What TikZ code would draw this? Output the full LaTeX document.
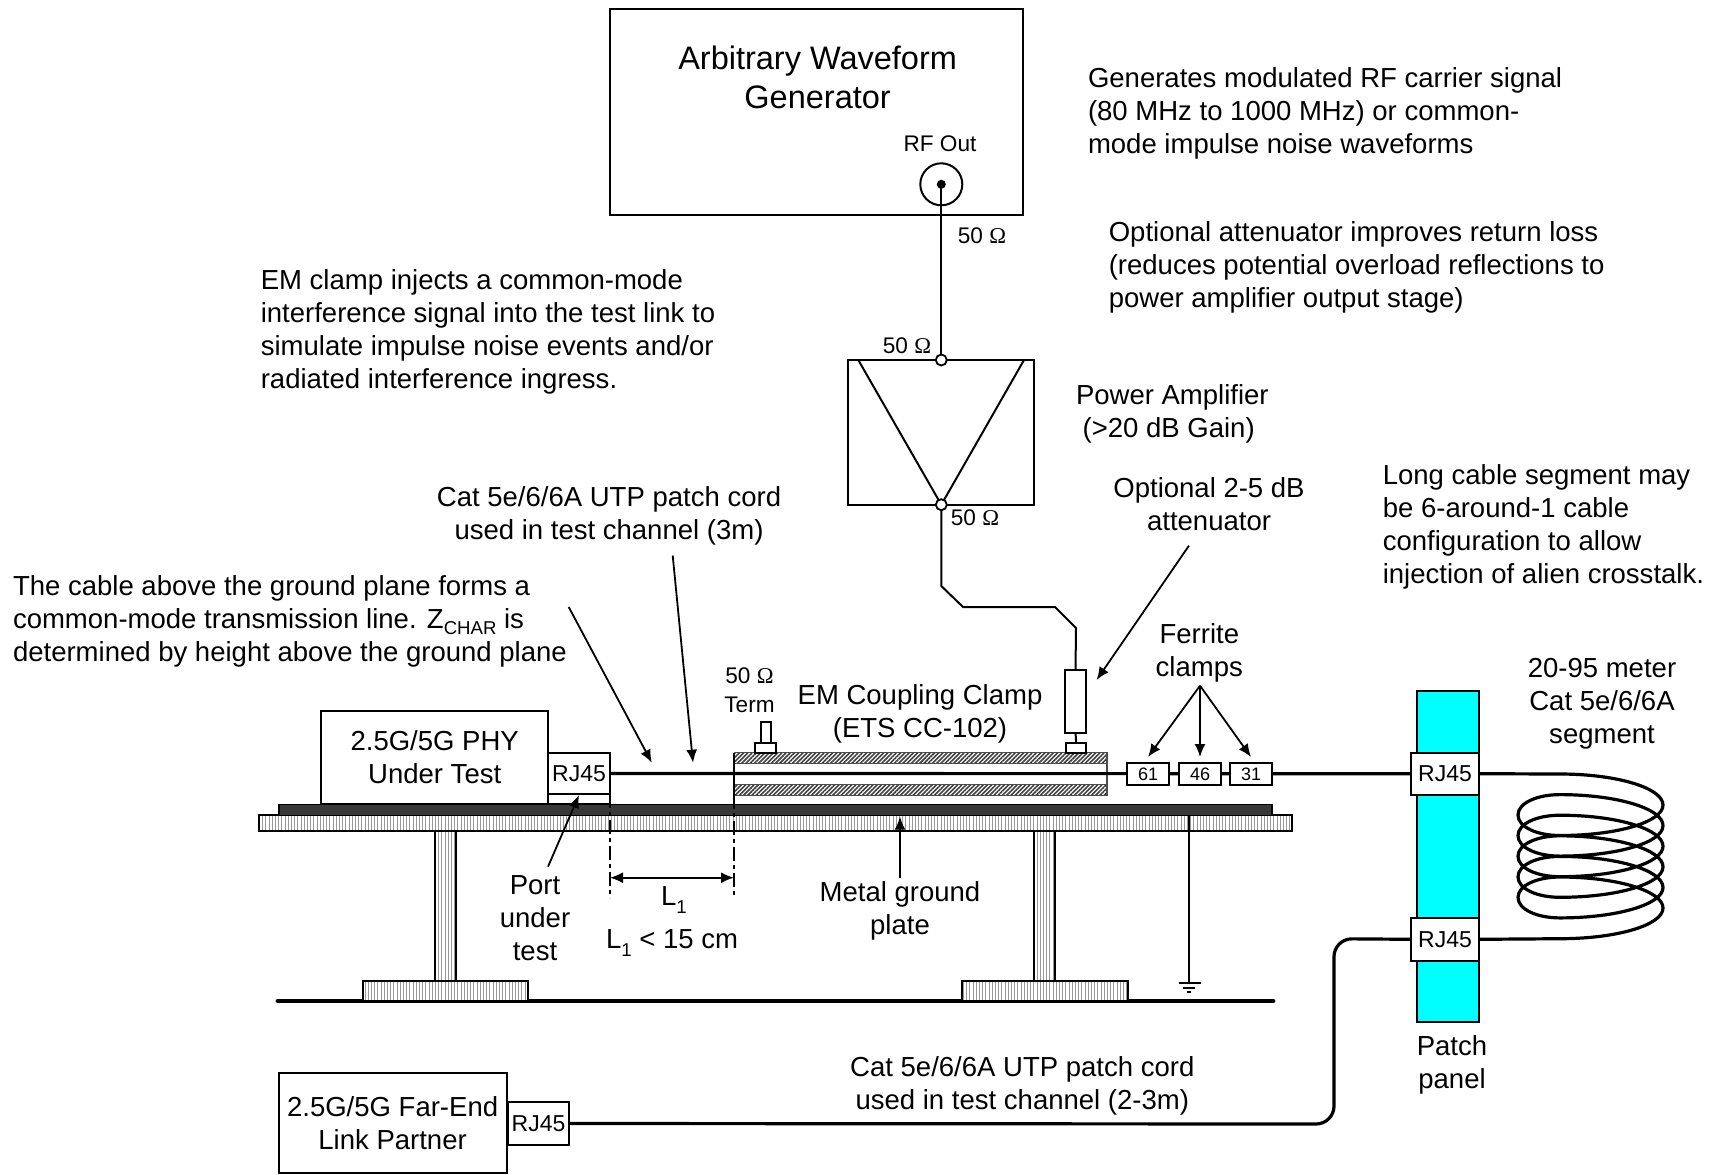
\documentclass[tikz,border=0pt]{standalone}
\usepackage{fontspec}
\setmainfont{Liberation Sans}
\newfontfamily\omfont{Liberation Serif}
\usetikzlibrary{arrows.meta,patterns.meta}
\definecolor{panelcyan}{RGB}{0,255,255}
\newcommand{\ohm}{{\omfont Ω}}
\newcommand{\subtxt}[1]{\raisebox{-2.6pt}{\fontsize{9.3}{10}\selectfont #1}}
\newcommand{\subl}[1]{\raisebox{-4pt}{\fontsize{9.3}{10}\selectfont #1}}
\tikzset{
  lbl/.style={inner sep=0pt,outer sep=0pt,font=\fontsize{13.76}{16.5}\selectfont},
  lblc/.style={lbl,align=center,anchor=north},
  lbll/.style={lbl,align=left,anchor=north west},
  sm/.style={inner sep=0pt,outer sep=0pt,font=\fontsize{11.3}{13}\selectfont,align=center},
  wh/.style 2 args={minimum width=#1*0.5pt,minimum height=#2*0.5pt},
  box/.style={draw=black,line width=1pt,fill=white,inner sep=0pt,outer sep=0pt},
  thin wire/.style={line width=1pt,draw=black},
  cable/.style={line width=1.6pt,draw=black},
  callout/.style={line width=.9pt,draw=black,-{Latex[length=6.5pt,width=5.5pt]}},
  port/.style={circle,draw=black,line width=.9pt,fill=white,minimum size=5.5pt,inner sep=0pt,outer sep=0pt},
  rjbox/.style={box,font=\fontsize{11.5}{13}\selectfont},
  ferrite/.style={box,wh={42}{22},font=\fontsize{9}{10}\selectfont},
  metalfill/.style={draw=black,line width=1pt,pattern={Lines[angle=90,distance=1.6pt,line width=.3pt]},pattern color=black!40},
  hatchfill/.style={draw=black!70,line width=.5pt,pattern={Lines[angle=45,distance=1.5pt,line width=.8pt]},pattern color=black!75},
  limit/.style={line width=.8pt,draw=black,dash pattern=on 7pt off 2pt on 2pt off 2pt}
}
\begin{document}
\begin{tikzpicture}[x=.5pt,y=-.5pt]
\useasboundingbox (0,0) rectangle (1718,1174);

% table and ground
\draw[line width=2.4pt,line cap=round] (278,1001) -- (1273,1001);
\fill[white] (435,831) rectangle (456,981);
\fill[white] (1034,831) rectangle (1055,981);
\fill[white] (362.5,981) rectangle (527.5,1000.5);
\fill[white] (962,981) rectangle (1127.5,1000.5);
\draw[metalfill] (435,831) rectangle (456,981);
\draw[metalfill] (1034,831) rectangle (1055,981);
\draw[metalfill] (362.5,981) rectangle (527.5,1000.5);
\draw[metalfill] (962,981) rectangle (1127.5,1000.5);
\draw[metalfill] (258.6,815) rectangle (1292,831);
\fill[black!78] (279,804.5) rectangle (1272,815.5);
\draw[line width=.8pt] (279,804.5) rectangle (1272,815.5);

% ground connection
\coordinate (gwtop) at (1189,815);
\coordinate (gwbot) at (1189,983);
\draw[thin wire] (gwtop) -- (gwbot);
\draw[thin wire] (1178.5,983) -- (1200.5,983);
\draw[thin wire] (1183,987.5) -- (1195,987.5);
\draw[thin wire] (1187,992) -- (1191,992);

% arbitrary waveform generator
\node[box,wh={413.4}{206.2}] (arb) at (816.7,111.9) {};
\node[lbl,font=\fontsize{16.25}{19.5}\selectfont,align=center,anchor=north] (arbtxt) at (817.6,46) {Arbitrary Waveform\\Generator};
\node[sm] (rfout) at (940,143.5) {RF Out};
\node[circle,draw=black,line width=1pt,minimum size=21pt,inner sep=0pt,outer sep=0pt] (rfconn) at (941.3,184.3) {};
\node[circle,fill=black,minimum size=4.5pt,inner sep=0pt,outer sep=0pt] (rfdot) at (941.3,184.3) {};

% amplifier
\node[box,wh={186}{144.7}] (amp) at (941.3,432.3) {};
\coordinate (tria) at (858.3,360);
\coordinate (trib) at (1024,360);
\coordinate (tric) at (941.3,504.7);
\draw[thin wire] (tria) -- (tric) -- (trib);
\draw[thin wire] (rfdot.center) -- (941.3,360);
\node[port] (ampin) at (941.3,360) {};
\node[port] (ampout) at (941.3,504.7) {};
\node[sm] (o1) at (982,235.7) {50 \ohm};
\node[sm] (o2) at (907,345.7) {50 \ohm};
\node[sm] (o3) at (975,517.7) {50 \ohm};

% wire to clamp
\coordinate (w1) at (941.3,586);
\coordinate (w2) at (963,607);
\coordinate (w3) at (1055,607);
\coordinate (w4) at (1076,628);

% EM clamp
\draw[hatchfill] (734,752.7) rectangle (1107,763.7);
\draw[hatchfill] (734,784) rectangle (1107,795);
\draw[line width=.6pt,draw=black!70] (1107,752.7) -- (1107,795);
\node[box,wh={21}{10}] (termbase) at (765.5,748) {};
\node[box,wh={10.5}{21}] (termstub) at (765.75,732.5) {};
\node[box,wh={19.5}{10}] (attbase) at (1076.2,748) {};
\node[box,wh={21}{62.7}] (att) at (1075.5,701.4) {};
\draw[thin wire] (attbase.north) -- (att.south);
\draw[thin wire] (ampout.south) -- (w1) -- (w2) -- (w3) -- (w4) -- (att.north);

% patch panel
\node[draw=black,line width=1pt,fill=panelcyan,wh={62.3}{331},inner sep=0pt,outer sep=0pt] (panel) at (1447.8,856.2) {};
\node[rjbox,wh={68}{42}] (rjpa) at (1445,773.7) {RJ45};
\node[rjbox,wh={68}{42.7}] (rjpb) at (1445,939.3) {RJ45};

% PHY
\node[box,wh={226.6}{93},font=\fontsize{13.76}{16.5}\selectfont,align=center] (phy) at (434.7,757.5) {2.5G/5G PHY\\Under Test};
\node[box,wh={62}{10}] (rjbase) at (579,799) {};
\node[rjbox,wh={62}{41}] (rjphy) at (579,773.5) {RJ45};

% main cable
\draw[cable] (rjphy.east) -- (rjpa.west);

% ferrites
\node[ferrite] (f61) at (1148,774) {61};
\node[ferrite] (f46) at (1200,774) {46};
\node[ferrite] (f31) at (1251,774) {31};

% coil
\coordinate (coilstart) at (1560,774);
\draw[cable] (rjpa.east) -- (coilstart)
  \foreach \k in {0,...,4} {
    .. controls (1617,774+20.6*\k) and (1663,788+20.6*\k) .. (1663,805+20.6*\k)
    .. controls (1663,822+20.6*\k) and (1617,835.5+20.6*\k) .. (1560,835.5+20.6*\k)
    .. controls (1537,835.5+20.6*\k) and (1518,827+20.6*\k) .. (1518,815+20.6*\k)
    .. controls (1518,803+20.6*\k) and (1537,794.6+20.6*\k) .. (1560,794.6+20.6*\k)
  }
  .. controls (1617,877) and (1663,891) .. (1663,908)
  .. controls (1663,925) and (1617,938.7) .. (1560,938.7) -- (rjpb.east);

% far end
\node[box,wh={227.6}{100}] (farbox) at (393.2,1123) {};
\node[lblc] (fartxt) at (392.6,1097) {2.5G/5G Far-End\\Link Partner};
\node[rjbox,wh={60.3}{43}] (rjfar) at (538.5,1123.5) {RJ45};
\coordinate (cblcorner) at (1334,938.7);
\coordinate (cbllow) at (1334,1124);
\draw[cable,rounded corners=9pt] (rjpb.west) -- (cblcorner) -- (cbllow) -- (rjfar.east);

% limit lines and dimension
\coordinate (la) at (610,794);
\coordinate (lb) at (610,898);
\coordinate (lc) at (734,795);
\coordinate (lt) at (734,752.7);
\coordinate (ld) at (734,898);
\coordinate (da) at (610,877.7);
\coordinate (db) at (734,877.7);
\draw[limit] (la) -- (lb);
\draw[limit] (lc) -- (ld);
\draw[thin wire] (lt) -- (lc);
\draw[line width=.9pt,{Latex[length=6.5pt,width=5.5pt]}-{Latex[length=6.5pt,width=5.5pt]}] (da) -- (db);

% callouts
\coordinate (a1) at (568.7,607);
\coordinate (a1e) at (651.8,762.7);
\coordinate (a2) at (672.7,555.5);
\coordinate (a2e) at (693,762.7);
\coordinate (a3) at (1189,545.6);
\coordinate (a3e) at (1096.6,680);
\coordinate (a4) at (1200,685.7);
\coordinate (a4a) at (1148,757);
\coordinate (a4b) at (1200,757);
\coordinate (a4c) at (1251,757);
\coordinate (a5) at (900,877.7);
\coordinate (a5e) at (900,816.7);
\coordinate (a6) at (548,866.7);
\coordinate (a6e) at (579,795);
\draw[callout] (a1) -- (a1e);
\draw[callout] (a2) -- (a2e);
\draw[callout] (a3) -- (a3e);
\draw[callout] (a4) -- (a4a);
\draw[callout] (a4) -- (a4b);
\draw[callout] (a4) -- (a4c);
\draw[callout] (a5) -- (a5e);
\draw[callout] (a6) -- (a6e);

% texts
\node[lbll] (t1) at (1088,68) {Generates modulated RF carrier signal\\(80 MHz to 1000 MHz) or common-\\mode impulse noise waveforms};
\node[lbll] (t2) at (1108.8,222) {Optional attenuator improves return loss\\(reduces potential overload reflections to\\power amplifier output stage)};
\node[lbll] (t3) at (260.8,269.5) {EM clamp injects a common-mode\\interference signal into the test link to\\simulate impulse noise events and/or\\radiated interference ingress.};
\node[lbll] (t4) at (1076,385) {Power Amplifier\\\hspace*{3.3pt}(>20 dB Gain)};
\node[lblc] (t5) at (1209,477.6) {Optional 2-5 dB\\attenuator};
\node[lbll] (t6) at (1382.8,464.6) {Long cable segment may\\be 6-around-1 cable\\configuration to allow\\injection of alien crosstalk.};
\node[lblc] (t7) at (609,486.4) {Cat 5e/6/6A UTP patch cord\\used in test channel (3m)};
\node[lbll] (t8) at (13,576) {The cable above the ground plane forms a\\common-mode transmission line. Z\subtxt{CHAR} is\\determined by height above the ground plane};
\node[lblc] (t9) at (1199.3,624) {Ferrite\\clamps};
\node[lblc] (t10) at (1602,658) {20-95 meter\\Cat 5e/6/6A\\segment};
\node[sm,anchor=north,font=\fontsize{11.3}{14.2}\selectfont] (t11) at (749.5,668) {50 \ohm\\Term};
\node[lblc] (t12) at (920,685) {EM Coupling Clamp\\(ETS CC-102)};
\node[lblc] (t13) at (535,876) {Port\\under\\test};
\node[lbl,anchor=base] (t14) at (674,905.7) {L\subl{1}};
\node[lbl,anchor=base] (t15) at (672,948) {L\subl{1} < 15 cm};
\node[lblc] (t16) at (900,881.7) {Metal ground\\plate};
\node[lblc] (t17) at (1452,1036) {Patch\\panel};
\node[lblc] (t18) at (1022.3,1057) {Cat 5e/6/6A UTP patch cord\\used in test channel (2-3m)};
\end{tikzpicture}
\end{document}
